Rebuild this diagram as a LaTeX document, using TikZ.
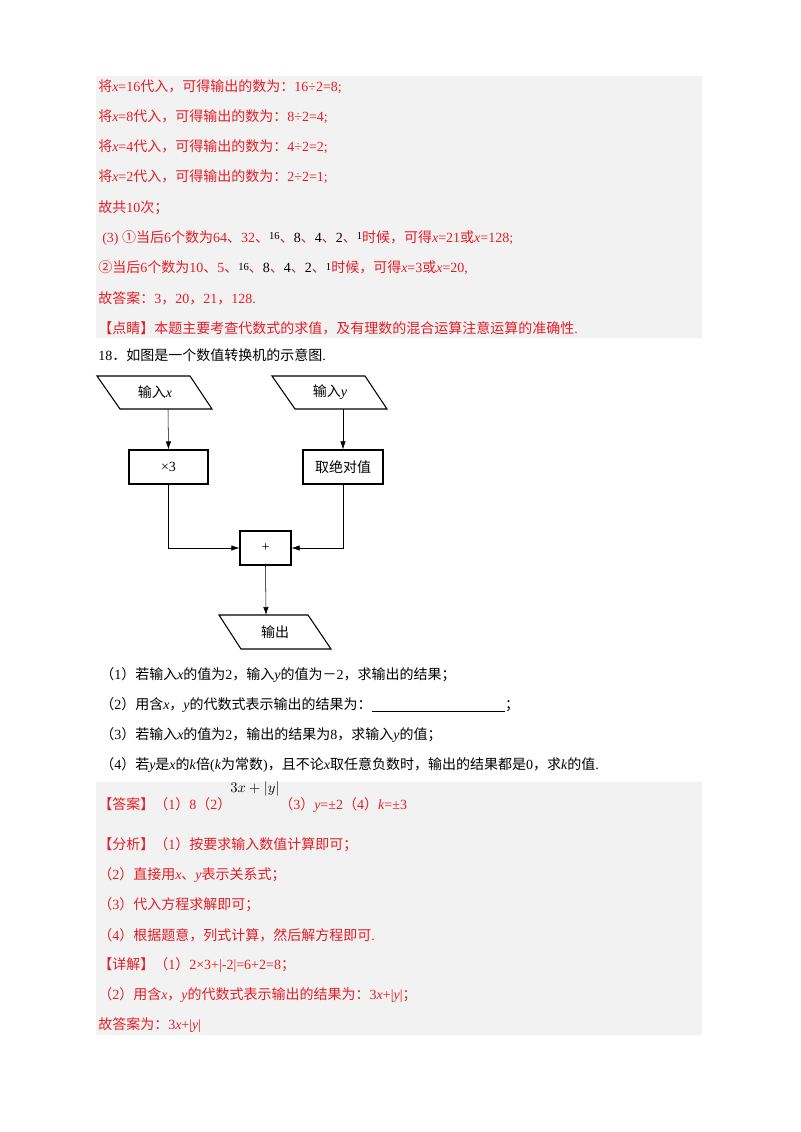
\documentclass[tikz,border=0pt]{standalone}
\usepackage{fontspec}
\usetikzlibrary{arrows.meta}
\setmainfont{Liberation Serif}
\newfontfamily\cjk{Noto Sans CJK SC}
\newfontfamily\lat{Liberation Serif}
\XeTeXinterchartokenstate=1
\newXeTeXintercharclass\cjkclass
\newcount\cc
\cc="4E00 \loop \XeTeXcharclass\cc=\cjkclass \advance\cc1 \ifnum\cc<"A000 \repeat
\cc="3000 \loop \XeTeXcharclass\cc=\cjkclass \advance\cc1 \ifnum\cc<"3040 \repeat
\cc="FF00 \loop \XeTeXcharclass\cc=\cjkclass \advance\cc1 \ifnum\cc<"FFF0 \repeat
\cc="2460 \loop \XeTeXcharclass\cc=\cjkclass \advance\cc1 \ifnum\cc<"2474 \repeat
\XeTeXinterchartoks 0 \cjkclass = {\cjk}
\XeTeXinterchartoks 4095 \cjkclass = {\cjk}
\XeTeXinterchartoks \cjkclass 0 = {\lat}
\XeTeXinterchartoks \cjkclass 4095 = {\lat}
\definecolor{ans}{RGB}{228,30,38}
\definecolor{bg}{RGB}{242,242,242}
\newcommand{\bk}[1]{\textcolor{black}{#1}}
\newcommand{\sm}[1]{\textcolor{black}{\raisebox{2pt}{\fontsize{8}{8}\selectfont #1}}}
\begin{document}
\begin{tikzpicture}[x=0.75pt,y=-0.75pt,font=\fontsize{10.5}{12}\selectfont,
  txt/.style={anchor=west,inner sep=0pt},
  red/.style={txt,text=ans},
  box/.style={draw,thick,inner sep=0pt},
  arr/.style={draw,-{Latex[length=6pt,width=4pt]}}]
\useasboundingbox (0,0) rectangle (800,1132);
\fill[bg] (96,76) rectangle (702,338);
\fill[bg] (96,782) rectangle (702,1035);
\node[red] (a1) at (98,87) {将\textit{x}=16代入，可得输出的数为：16÷2=8;};
\node[red] (a2) at (98,117) {将\textit{x}=8代入，可得输出的数为：8÷2=4;};
\node[red] (a3) at (98,147) {将\textit{x}=4代入，可得输出的数为：4÷2=2;};
\node[red] (a4) at (98,177) {将\textit{x}=2代入，可得输出的数为：2÷2=1;};
\node[red] (a5) at (98,208) {故共10次；};
\node[red] (a6) at (102,238) {(3) ①当后6个数为64、32、\sm{16}、\bk{8}、\bk{4}、\bk{2}、\sm{1}时候，可得\textit{x}=21或\textit{x}=128;};
\node[red] (a7) at (98,268) {②当后6个数为10、5、\sm{16}、\bk{8}、\bk{4}、\bk{2}、\sm{1}时候，可得\textit{x}=3或\textit{x}=20,};
\node[red] (a8) at (98,298) {故答案：3，20，21，128.};
\node[red] (a9) at (98,328) {【点睛】本题主要考查代数式的求值，及有理数的混合运算注意运算的准确性.};
\node[txt] (q0) at (98,355) {18．如图是一个数值转换机的示意图.};
% flowchart
\draw[thick] (97,376) -- (190,376) -- (212,409) -- (120,409) -- cycle;
\node (inx) at (155,392.5) {输入\textit{x}};
\draw[thick] (272,376) -- (365,376) -- (387,409) -- (295,409) -- cycle;
\node (iny) at (330,392.5) {输入\textit{y}};
\node[box,minimum width=59.25pt,minimum height=25.5pt] (m3) at (168.5,467) {×3};
\node[box,minimum width=60pt,minimum height=25.5pt] (abs) at (343,467) {取绝对值};
\node[box,minimum width=38.25pt,minimum height=25.5pt] (plus) at (265.5,548) {+};
\draw[thick] (219,615) -- (308,615) -- (331,649) -- (241,649) -- cycle;
\node (out) at (275,632) {输出};
\coordinate (px) at (168,409);
\coordinate (py) at (343,409);
\coordinate (po) at (266,615);
\draw[arr] (px) -- (m3.north);
\draw[arr] (py) -- (abs.north);
\draw[arr] (m3.south) |- (plus.west);
\draw[arr] (abs.south) |- (plus.east);
\draw[arr] (plus.south) -- (po);
\node[txt] (q1) at (100,675) {（1）若输入\textit{x}的值为2，输入\textit{y}的值为－2，求输出的结果；};
\node[txt] (q2) at (100,705) {（2）用含\textit{x}，\textit{y}的代数式表示输出的结果为：\rule[-2pt]{100pt}{0.8pt}；};
\node[txt] (q3) at (100,735) {（3）若输入\textit{x}的值为2，输出的结果为8，求输入\textit{y}的值；};
\node[txt] (q4) at (100,765) {（4）若\textit{y}是\textit{x}的\textit{k}倍(\textit{k}为常数)，且不论\textit{x}取任意负数时，输出的结果都是0，求\textit{k}的值.};
\node[red] (b1) at (98,805) {【答案】（1）8（2）\hspace{36pt}（3）\textit{y}=±2（4）\textit{k}=±3};
\node[txt] (b1s) at (230,789) {$3x+|y|$};
\node[red] (b2) at (98,845) {【分析】（1）按要求输入数值计算即可；};
\node[red] (b3) at (98,875) {（2）直接用\textit{x}、\textit{y}表示关系式；};
\node[red] (b4) at (98,905) {（3）代入方程求解即可；};
\node[red] (b5) at (98,935) {（4）根据题意，列式计算，然后解方程即可.};
\node[red] (b6) at (98,965) {【详解】（1）2×3+|-2|=6+2=8；};
\node[red] (b7) at (98,995) {（2）用含\textit{x}，\textit{y}的代数式表示输出的结果为：3\textit{x}+|\textit{y}|；};
\node[red] (b8) at (98,1025) {故答案为：3\textit{x}+|\textit{y}|};
\end{tikzpicture}
\end{document}
